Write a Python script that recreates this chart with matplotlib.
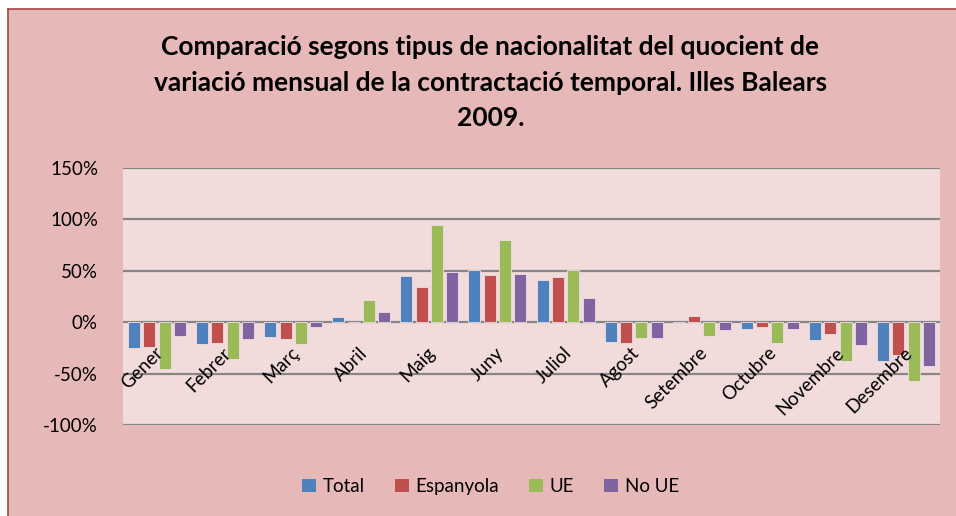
import numpy as np
import matplotlib
matplotlib.use("Agg")
import matplotlib.pyplot as plt
from matplotlib.patches import Patch
import matplotlib.ticker as mticker

plt.rcParams['font.family'] = ['Lato', 'DejaVu Sans']

months = ['Gener', 'Febrer', 'Març', 'Abril', 'Maig', 'Juny', 'Juliol',
          'Agost', 'Setembre', 'Octubre', 'Novembre', 'Desembre']
series_names = ['Total', 'Espanyola', 'UE', 'No UE']
total = [-25, -21, -14, 5, 45, 50.5, 41, -19, -0.5, -7, -17.5, -37.5]
espanyola = [-24, -20, -16, 0, 34, 46, 44, -20, 6, -5, -11.5, -32]
ue = [-46, -36, -21, 22, 95, 80, 50.5, -15, -13.5, -20, -38, -57.5]
no_ue = [-13, -16, -4.5, 10, 48.5, 46.5, 24, -15, -8, -6.5, -22, -42.5]
colors = ['#4F81BD', '#C0504D', '#9BBB59', '#8064A2']
yticks = [-100, -50, 0, 50, 100, 150]

title = ("Comparació segons tipus de nacionalitat del quocient de\n"
         "variació mensual de la contractació temporal. Illes Balears\n"
         "2009.")

fig = plt.figure(figsize=(9.56, 5.16), dpi=100)
fig.patch.set_facecolor('white')

# outer chart area (background axes)
bg = fig.add_axes([8 / 956, 0, 1 - 8 / 956, 1 - 9 / 516], zorder=-1)
bg.set_facecolor('#E6B9B8')
bg.set_xticks([])
bg.set_yticks([])
for side, s in bg.spines.items():
    s.set_color('#A94442')
    s.set_linewidth(1.2)
    if side in ('right', 'bottom'):
        s.set_visible(False)

ax = fig.add_axes([123 / 956, (516 - 425) / 516, 817 / 956, 257 / 516])
ax.set_facecolor('#F2DCDB')

x = np.arange(len(months))
pitch = 0.225
width = 0.176
data = [total, espanyola, ue, no_ue]
for k, vals in enumerate(data):
    ax.bar(x + (k - 1.5) * pitch, vals, width, color=colors[k],
           edgecolor='#EEDDE3', linewidth=0.6, zorder=3, label=series_names[k])

ax.set_xlim(-0.5, len(months) - 0.5)
ax.set_ylim(-100, 150)
ax.set_yticks(yticks)
ax.yaxis.set_major_formatter(mticker.FuncFormatter(lambda v, p: f"{v:.0f}%"))
ax.tick_params(axis='y', length=0, labelsize=13.5, pad=18)
ax.set_xticks([])
ax.grid(axis='y', color='#868686', linewidth=1.6, zorder=1)
for s in ax.spines.values():
    s.set_visible(False)

for i, m in enumerate(months):
    ax.text(i - 0.04, -21.5, m, rotation=45, rotation_mode='anchor',
            ha='right', va='top', fontsize=13.5, zorder=5)

fig.text(0.513, 0.932, title, ha='center', va='top', fontsize=19,
         fontweight='bold', linespacing=1.58)

handles = [Patch(facecolor=c) for c in colors]
fig.legend(handles, series_names, loc='center', bbox_to_anchor=(0.513, 0.057),
           ncol=4, frameon=False, fontsize=13.5, handlelength=0.75,
           handleheight=0.75, handletextpad=0.35, columnspacing=1.6)

fig.savefig('out.png', dpi=100)
